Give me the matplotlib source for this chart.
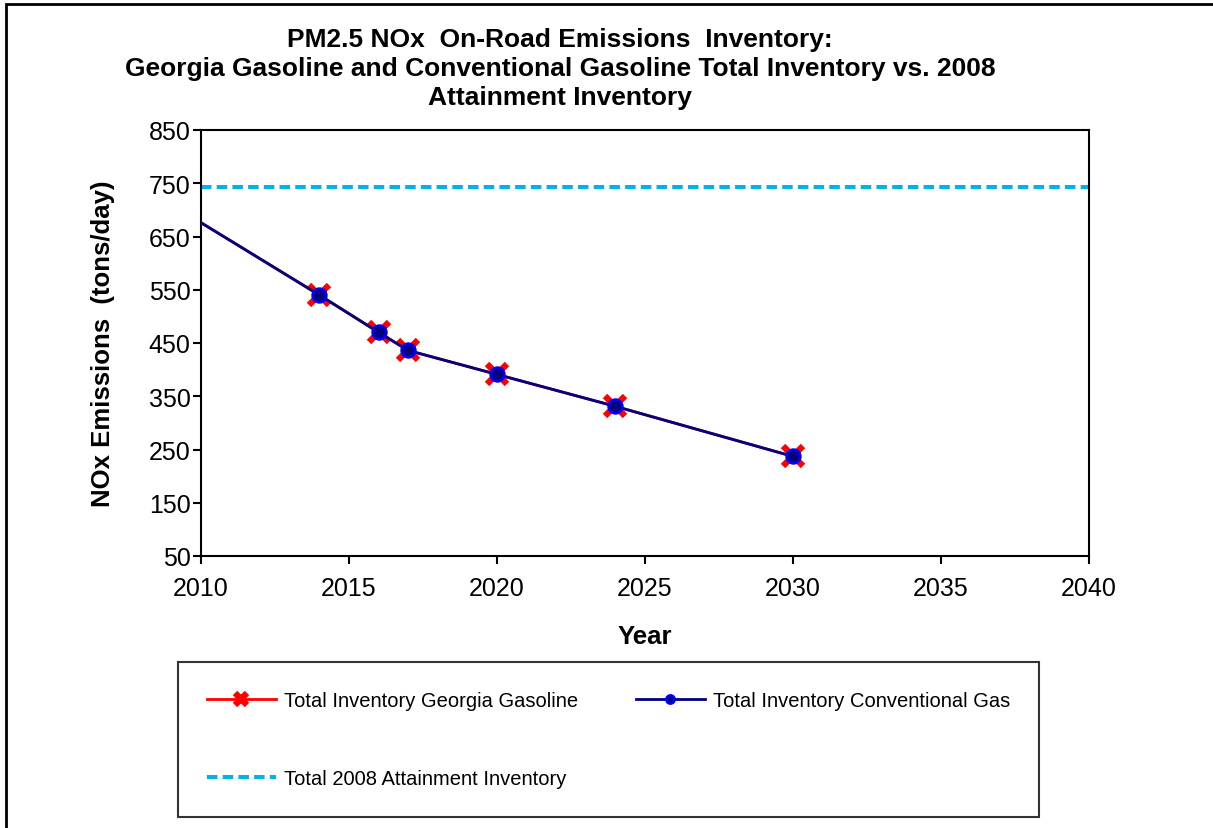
import matplotlib
matplotlib.use("Agg")
import matplotlib.pyplot as plt
from matplotlib.patches import Rectangle

plt.rcParams['font.family'] = ['Liberation Sans', 'DejaVu Sans']

# data
years = [2010, 2014, 2016, 2017, 2020, 2024, 2030]
georgia_gas = [676, 540, 470, 436, 391, 331, 237]
conventional_gas = [676, 540, 470, 436, 391, 331, 237]
attainment_2008 = 743

fig = plt.figure(figsize=(12.13, 8.29), dpi=100)
ax = fig.add_axes([201 / 1213, 1 - 557 / 829, 888 / 1213, 426 / 829])

ax.axhline(attainment_2008, color='#00B0F0', lw=2.9, ls=(0, (2.6, 1.3)),
           label='Total 2008 Attainment Inventory', zorder=2)
ax.plot(years, georgia_gas, color='red', lw=2, marker='x', ms=14, mec='red',
        mew=4.5, markevery=range(1, len(years)),
        label='Total Inventory Georgia Gasoline', zorder=3)
ax.plot(years, conventional_gas, color='#000080', lw=2, marker='o', ms=10, mec='#0000FF',
        mew=1.8, mfc='#000080', markevery=range(1, len(years)),
        label='Total Inventory Conventional Gas', zorder=4)

ax.set_xlim(2010, 2040)
ax.set_ylim(50, 850)
ax.set_xticks(range(2010, 2041, 5))
ax.set_yticks(range(50, 851, 100))
ax.tick_params(labelsize=18, length=5.5, width=1.5, direction='out')
ax.tick_params(axis='x', pad=9)
ax.tick_params(axis='y', pad=2)
for s in ax.spines.values():
    s.set_linewidth(1.5)

ax.set_xlabel('Year', fontsize=18.5, fontweight='bold', labelpad=17)
ax.set_ylabel('NOx Emissions  (tons/day)', fontsize=18.5, fontweight='bold', labelpad=24)

fig.text(560 / 1213, 1 - 69 / 829,
         'PM2.5 NOx  On-Road Emissions  Inventory:\n'
         'Georgia Gasoline and Conventional Gasoline Total Inventory vs. 2008\n'
         'Attainment Inventory',
         ha='center', va='center', fontsize=19, fontweight='bold', linespacing=1.25)

h, l = ax.get_legend_handles_labels()
order = [1, 0, 2]
leg = fig.legend([h[i] for i in order], [l[i] for i in order], ncol=2,
                 loc='upper left', bbox_to_anchor=(178 / 1213, 1 - 663 / 829),
                 fontsize=14.5, frameon=True, fancybox=False, edgecolor='black',
                 handlelength=3.4, handletextpad=0.4, columnspacing=2.9,
                 labelspacing=2.9, borderpad=1.45, borderaxespad=0, markerscale=0.6)
leg.get_frame().set_linewidth(1.5)

# outer chart border
fig.patches.append(Rectangle((6 / 1213, -0.05), 1.2, 1 - 5 / 829 + 0.05,
                             transform=fig.transFigure, fill=False, lw=2, ec='black'))

fig.savefig('out.png', dpi=100)
